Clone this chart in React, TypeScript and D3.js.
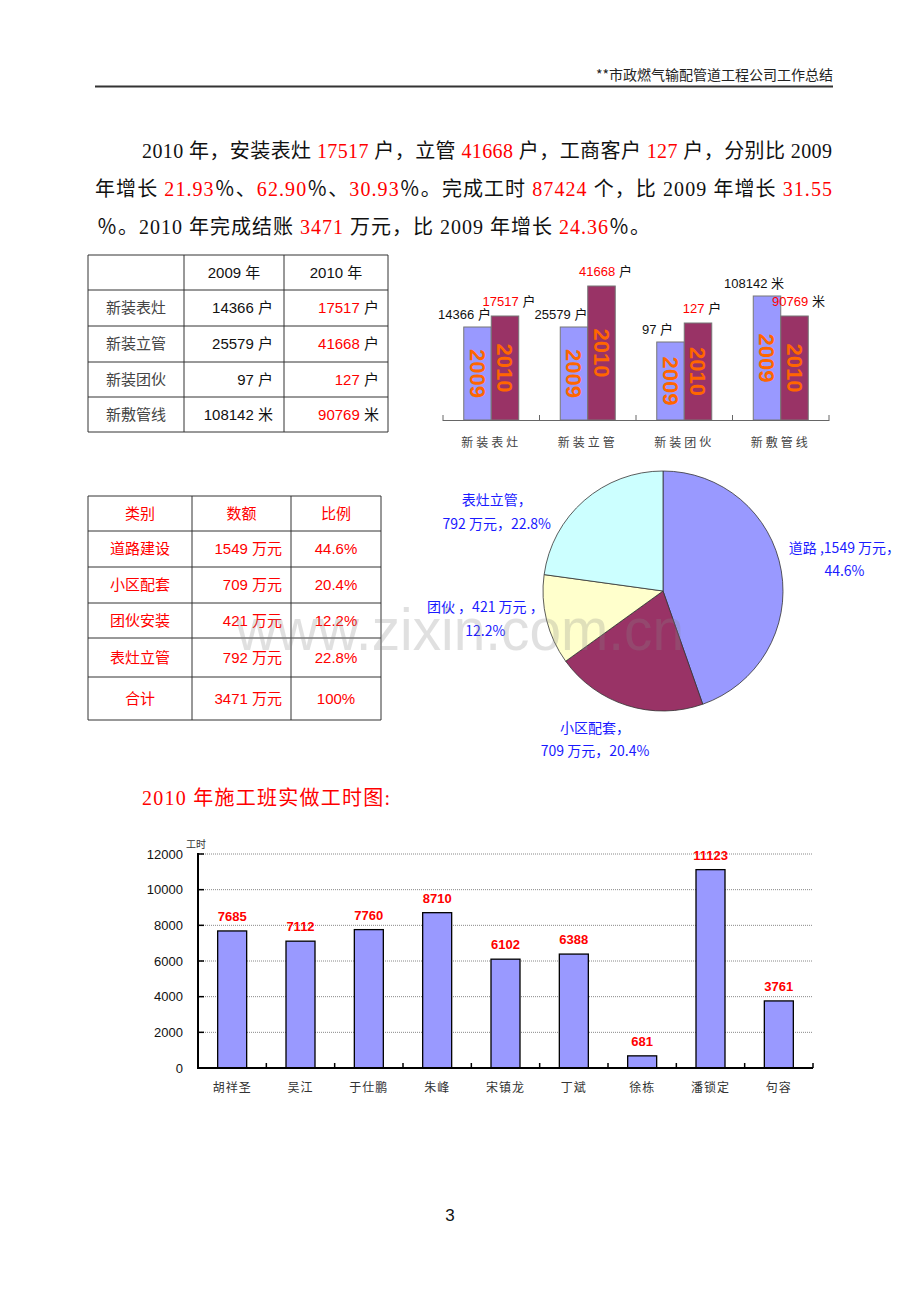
import React from "react";
import * as d3 from "d3";

const W = 920;
const H = 1302;

// ---------- header & text ----------
const headerTitle = "**市政燃气输配管道工程公司工作总结";
type Seg = [string, boolean];
const paraLines: Seg[][] = [
  [["2010 年，安装表灶 ", false], ["17517", true], [" 户，立管 ", false], ["41668", true], [" 户，工商客户 ", false], ["127", true], [" 户，分别比 2009", false]],
  [["年增长 ", false], ["21.93", true], ["％、", false], ["62.90", true], ["％、", false], ["30.93", true], ["％。完成工时 ", false], ["87424", true], [" 个，比 2009 年增长 ", false], ["31.55", true]],
  [["％。2010 年完成结账 ", false], ["3471", true], [" 万元，比 2009 年增长 ", false], ["24.36", true], ["％。", false]],
];

// ---------- chart 1 : 2009 vs 2010 ----------
const cats1 = ["新装表灶", "新装立管", "新装团伙", "新敷管线"];
const vals2009 = [14366, 25579, 97, 108142];
const vals2010 = [17517, 41668, 127, 90769];
const units1 = ["户", "户", "户", "米"];
// the original chart draws the bars at these (not-to-scale) relative heights
const shown2009 = [93, 93, 78, 124];
const shown2010 = [104, 134, 97, 104];
const yearLabels = ["2009", "2010"];

// ---------- table 2 / pie ----------
const t2Cats = ["道路建设", "小区配套", "团伙安装", "表灶立管", "合计"];
const t2Vals = [1549, 709, 421, 792, 3471];
const t2Pct = ["44.6%", "20.4%", "12.2%", "22.8%", "100%"];
const pieCats = ["道路", "小区配套", "团伙", "表灶立管"];
const pieVals = [1549, 709, 421, 792];
const pieColors = ["#9999FF", "#993366", "#FFFFCC", "#CCFFFF"];
const pieLabelLines = [
  ["道路 ,1549 万元，", "44.6%"],
  ["小区配套，", "709 万元，20.4%"],
  ["团伙 ，421 万元 ，", "12.2%"],
  ["表灶立管，", "792 万元，22.8%"],
];
const pieLabelNudge = [[4, -4], [-14, -26], [-3, -18], [-48, 54]];

// ---------- chart 3 : work hours ----------
const workers = ["胡祥圣", "吴江", "于仕鹏", "朱峰", "宋镇龙", "丁斌", "徐栋", "潘锁定", "句容"];
const hours = [7685, 7112, 7760, 8710, 6102, 6388, 681, 11123, 3761];
const hourTicks = [0, 2000, 4000, 6000, 8000, 10000, 12000];

const SANS = "'Liberation Sans', Arial, 'Noto Sans CJK SC', sans-serif";
const CJK = "'Noto Sans CJK SC', sans-serif";
const SERIF = "'Liberation Serif', 'Noto Sans CJK SC', serif";

export default function App() {
  // chart 1
  const x1 = d3.scaleBand<string>().domain(cats1).range([443, 829]);
  const y1 = d3.scaleLinear().domain([0, 140]).range([420, 280]);
  const bw1 = 27.5;

  // pie
  const pieGen = d3.pie<number>().sort(null).value((d) => d);
  const arcs = pieGen(pieVals);
  const cx = 663, cy = 591, R = 120;
  const arcGen = d3.arc<d3.PieArcDatum<number>>().innerRadius(0).outerRadius(R);
  const labelArc = d3.arc<d3.PieArcDatum<number>>().innerRadius(180).outerRadius(180);

  // chart 3
  const x3 = d3.scaleBand<string>().domain(workers).range([198, 813]);
  const y3 = d3.scaleLinear().domain([0, 12000]).range([1068, 854]);
  const bw3 = 29;

  const t1x = [88, 184, 284, 388];
  const t1y = [255, 290, 326, 362, 397, 432];
  const t2x = [88, 192, 291, 381];
  const t2y = [496, 531, 567, 603, 638, 677, 720];

  const paraX = [142, 95, 97];
  const paraW = [690, 737, 553];
  const paraY = [158, 196, 234];

  return (
    <svg width={W} height={H} style={{ position: "absolute", left: 0, top: 0, background: "#fff" }}>
      <rect x={0} y={0} width={W} height={H} fill="#fff" />
      {/* header */}
      <text x={833} y={80} textAnchor="end" fontFamily={CJK} fontSize={14} fill="#222">{headerTitle}</text>
      <line x1={95} x2={833} y1={86.5} y2={86.5} stroke="#333" strokeWidth={2} />

      {/* paragraph */}
      {paraLines.map((segs, i) => (
        <text key={i} x={paraX[i]} y={paraY[i]} fontFamily={SERIF} fontSize={20} textLength={paraW[i]} lengthAdjust="spacing" fill="#111">
          {segs.map(([t, red], j) => (
            <tspan key={j} fill={red ? "#FF0000" : "#111"}>{t}</tspan>
          ))}
        </text>
      ))}

      {/* table 1 */}
      <g>
        {t1x.map((x, i) => (
          <line key={"v" + i} x1={x} x2={x} y1={t1y[0]} y2={t1y[t1y.length - 1]} stroke="#333" strokeWidth={1} />
        ))}
        {t1y.map((y, i) => (
          <line key={"h" + i} x1={t1x[0]} x2={t1x[3]} y1={y} y2={y} stroke="#333" strokeWidth={1} />
        ))}
        {yearLabels.map((yl, i) => (
          <text key={yl} x={(t1x[i + 1] + t1x[i + 2]) / 2} y={(t1y[0] + t1y[1]) / 2} dy="0.35em" textAnchor="middle" fontFamily={SANS} fontSize={15} fill="#111">{yl} 年</text>
        ))}
        {cats1.map((c, i) => {
          const yc = (t1y[i + 1] + t1y[i + 2]) / 2;
          return (
            <g key={c}>
              <text x={(t1x[0] + t1x[1]) / 2} y={yc} dy="0.35em" textAnchor="middle" fontFamily={CJK} fontSize={15} fill="#444">{c}</text>
              <text x={t1x[2] - 11} y={yc} dy="0.35em" textAnchor="end" fontFamily={SANS} fontSize={15} fill="#111">{vals2009[i]} {units1[i]}</text>
              <text x={t1x[3] - 9} y={yc} dy="0.35em" textAnchor="end" fontFamily={SANS} fontSize={15} fill="#FF0000">{vals2010[i]} <tspan fill="#111">{units1[i]}</tspan></text>
            </g>
          );
        })}
      </g>

      {/* chart 1 */}
      <g>
        {cats1.map((c, i) => {
          const gx = (x1(c) as number) + x1.bandwidth() / 2 - bw1;
          const bars = [
            { x: gx, v: shown2009[i], fill: "#9999FF", label: `${vals2009[i]} `, unit: units1[i], lc: "#111", yr: "2009", dx: -13, dyl: 8 },
            { x: gx + bw1, v: shown2010[i], fill: "#993366", label: `${vals2010[i]} `, unit: units1[i], lc: "#FF0000", yr: "2010", dx: 4, dyl: 10 },
          ];
          return (
            <g key={c}>
              {bars.map((b, k) => {
                const top = y1(b.v);
                const mid = (top + y1(0)) / 2;
                return (
                  <g key={k}>
                    <rect x={b.x} y={top} width={bw1} height={y1(0) - top} fill={b.fill} stroke="#777" strokeWidth={1} />
                    <text transform={`translate(${b.x + bw1 / 2},${mid}) rotate(90)`} textAnchor="middle" dy="0.36em" fontFamily={SANS} fontWeight="bold" fontSize={22} fill="#FF6600">{b.yr}</text>
                    <text x={b.x + bw1 / 2 + b.dx} y={top - b.dyl} textAnchor="middle" fontFamily={SANS} fontSize={13} fill={b.lc}>{b.label}<tspan fill="#111">{b.unit}</tspan></text>
                  </g>
                );
              })}
              <text x={(x1(c) as number) + x1.bandwidth() / 2} y={447} textAnchor="middle" fontFamily={CJK} fontSize={12} letterSpacing={3} fill="#444">{c}</text>
            </g>
          );
        })}
        <line x1={443} x2={829} y1={420.5} y2={420.5} stroke="#666" strokeWidth={1} />
        {[...cats1.map((c) => x1(c) as number), 829].map((x, i) => (
          <line key={i} x1={x} x2={x} y1={415} y2={421} stroke="#666" strokeWidth={1} />
        ))}
      </g>

      {/* table 2 */}
      <g>
        {t2x.map((x, i) => (
          <line key={"v" + i} x1={x} x2={x} y1={t2y[0]} y2={t2y[t2y.length - 1]} stroke="#333" strokeWidth={1} />
        ))}
        {t2y.map((y, i) => (
          <line key={"h" + i} x1={t2x[0]} x2={t2x[3]} y1={y} y2={y} stroke="#333" strokeWidth={1} />
        ))}
        {["类别", "数额", "比例"].map((h, i) => (
          <text key={h} x={(t2x[i] + t2x[i + 1]) / 2} y={(t2y[0] + t2y[1]) / 2} dy="0.35em" textAnchor="middle" fontFamily={CJK} fontSize={15} fill="#FF0000">{h}</text>
        ))}
        {t2Cats.map((c, i) => {
          const yc = (t2y[i + 1] + t2y[i + 2]) / 2;
          return (
            <g key={c}>
              <text x={(t2x[0] + t2x[1]) / 2} y={yc} dy="0.35em" textAnchor="middle" fontFamily={CJK} fontSize={15} fill="#FF0000">{c}</text>
              <text x={t2x[2] - 9} y={yc} dy="0.35em" textAnchor="end" fontFamily={SANS} fontSize={15} fill="#FF0000">{t2Vals[i]} 万元</text>
              <text x={(t2x[2] + t2x[3]) / 2} y={yc} dy="0.35em" textAnchor="middle" fontFamily={SANS} fontSize={15} fill="#FF0000">{t2Pct[i]}</text>
            </g>
          );
        })}
      </g>

      {/* pie */}
      <g transform={`translate(${cx},${cy})`}>
        {arcs.map((a, i) => (
          <path key={pieCats[i]} d={arcGen(a) as string} fill={pieColors[i]} stroke="#333" strokeWidth={0.8} />
        ))}
        {arcs.map((a, i) => {
          const [lx, ly] = labelArc.centroid(a);
          const px = lx + pieLabelNudge[i][0];
          const py = ly + pieLabelNudge[i][1];
          return (
            <text key={"l" + i} x={px} y={py} textAnchor="middle" fontFamily={CJK} fontSize={14} fill="#1a1aff">
              <tspan x={px} dy="-0.3em">{pieLabelLines[i][0]}</tspan>
              <tspan x={px} dy="1.7em">{pieLabelLines[i][1]}</tspan>
            </text>
          );
        })}
      </g>

      {/* section title */}
      <text x={142} y={805} fontFamily={SERIF} fontSize={20} fill="#FF0000" textLength={248} lengthAdjust="spacing">2010 年施工班实做工时图:</text>

      {/* chart 3 */}
      <g>
        {hourTicks.filter((t) => t > 0).map((t) => (
          <line key={"g" + t} x1={199} x2={813} y1={y3(t)} y2={y3(t)} stroke="#888" strokeWidth={1} strokeDasharray="1,1" />
        ))}
        {hourTicks.map((t) => (
          <g key={"t" + t}>
            <line x1={198} x2={204} y1={y3(t)} y2={y3(t)} stroke="#000" strokeWidth={1.5} />
            <text x={183} y={y3(t)} dy="0.35em" textAnchor="end" fontFamily={SANS} fontSize={13} fill="#111">{t}</text>
          </g>
        ))}
        <text x={186} y={848} fontFamily={CJK} fontSize={10} fill="#333">工时</text>
        {workers.map((w, i) => {
          const bx = (x3(w) as number) + (x3.bandwidth() - bw3) / 2;
          const top = y3(hours[i]);
          return (
            <g key={w}>
              <rect x={bx} y={top} width={bw3} height={y3(0) - top} fill="#9999FF" stroke="#000" strokeWidth={1.3} />
              <text x={bx + bw3 / 2} y={top - 10} textAnchor="middle" fontFamily={SANS} fontWeight="bold" fontSize={13} fill="#FF0000">{hours[i]}</text>
              <text x={bx + bw3 / 2} y={1092} textAnchor="middle" fontFamily={CJK} fontSize={12} letterSpacing={1} fill="#333">{w}</text>
            </g>
          );
        })}
        {[...workers.map((w) => x3(w) as number), 813].map((x, i) => (
          <line key={"xt" + i} x1={x} x2={x} y1={1063} y2={1068} stroke="#000" strokeWidth={1.5} />
        ))}
        <line x1={198} x2={198} y1={853} y2={1069} stroke="#000" strokeWidth={2} />
        <line x1={197} x2={813} y1={1068} y2={1068} stroke="#000" strokeWidth={2} />
      </g>

      {/* watermark */}
      <text x={236} y={650} fontFamily={SANS} fontSize={60} fill="#888" opacity={0.25} textLength={448} lengthAdjust="spacingAndGlyphs">www.zixin.com.cn</text>

      {/* page number */}
      <text x={450} y={1221} textAnchor="middle" fontFamily={SANS} fontSize={17} fill="#111">3</text>
    </svg>
  );
}
